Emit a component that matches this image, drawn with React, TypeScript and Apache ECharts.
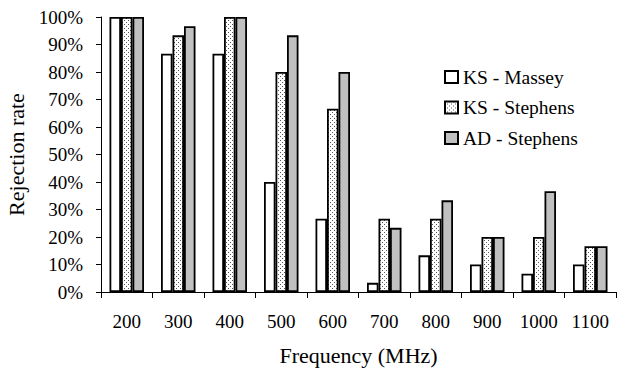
import React, { useEffect, useRef } from "react";
import * as echarts from "echarts";

const categories = ["200", "300", "400", "500", "600", "700", "800", "900", "1000", "1100"];
const ksMassey = [100, 86.67, 86.67, 40, 26.67, 3.33, 13.33, 10, 6.67, 10];
const ksStephens = [100, 93.33, 100, 80, 66.67, 26.67, 26.67, 20, 20, 16.67];
const adStephens = [100, 96.67, 100, 93.33, 80, 23.33, 33.33, 20, 36.67, 16.67];
const seriesNames = ["KS - Massey", "KS - Stephens", "AD - Stephens"];

function makeDots() {
  const c = document.createElement("canvas");
  c.width = 4;
  c.height = 4;
  const ctx = c.getContext("2d")!;
  ctx.fillStyle = "#ffffff";
  ctx.fillRect(0, 0, 4, 4);
  ctx.fillStyle = "#555555";
  ctx.fillRect(0, 0, 1, 1);
  ctx.fillRect(2, 2, 1, 1);
  return c;
}

export default function App() {
  const ref = useRef<HTMLDivElement>(null);
  useEffect(() => {
    const chart = echarts.init(ref.current!, undefined, { renderer: "svg" });
    const font = "Liberation Serif";
    const dots = { image: makeDots(), repeat: "repeat" } as any;
    const border = { borderColor: "#000", borderWidth: 1.8 };
    chart.setOption({
      animation: false,
      textStyle: { fontFamily: font, color: "#000" },
      grid: { left: 101, right: 11, top: 17, bottom: 77, containLabel: false, outerBoundsMode: "none" },
      legend: {
        orient: "vertical",
        left: 439,
        top: 62,
        icon: "rect",
        itemWidth: 13,
        itemHeight: 12,
        itemGap: 10.5,
        textStyle: { fontFamily: font, fontSize: 19.5, color: "#000" },
        data: seriesNames,
      },
      xAxis: {
        type: "category",
        data: categories,
        name: "Frequency (MHz)",
        nameLocation: "middle",
        nameGap: 52,
        nameTextStyle: { fontFamily: font, fontSize: 22, color: "#000" },
        axisLine: { lineStyle: { color: "#000", width: 1 } },
        axisTick: { show: true, length: 6, inside: false, lineStyle: { color: "#000" } },
        axisLabel: { fontFamily: font, fontSize: 19, color: "#000", margin: 20 },
      },
      yAxis: {
        type: "value",
        min: 0,
        max: 100,
        interval: 10,
        name: "Rejection rate",
        nameLocation: "middle",
        nameGap: 60,
        nameTextStyle: { fontFamily: font, fontSize: 22, color: "#000" },
        axisLine: { show: true, lineStyle: { color: "#000", width: 1 } },
        axisTick: { show: true, length: 5, lineStyle: { color: "#000" } },
        splitLine: { show: false },
        axisLabel: {
          fontFamily: font,
          fontSize: 19,
          color: "#000",
          margin: 18,
          formatter: (v: number) => `${v}%`,
        },
      },
      series: [
        {
          name: seriesNames[0],
          type: "bar",
          data: ksMassey,
          barWidth: 11.5,
          barGap: "0%",
          itemStyle: { color: "#ffffff", ...border },
        },
        {
          name: seriesNames[1],
          type: "bar",
          data: ksStephens,
          barWidth: 11.5,
          barGap: "0%",
          itemStyle: { color: dots, ...border },
        },
        {
          name: seriesNames[2],
          type: "bar",
          data: adStephens,
          barWidth: 11.5,
          barGap: "0%",
          itemStyle: { color: "#c0c0c0", ...border },
        },
      ],
    });
    return () => chart.dispose();
  }, []);
  return <div ref={ref} style={{ width: 627, height: 369, position: "absolute", left: 0, top: 0 }} />;
}
